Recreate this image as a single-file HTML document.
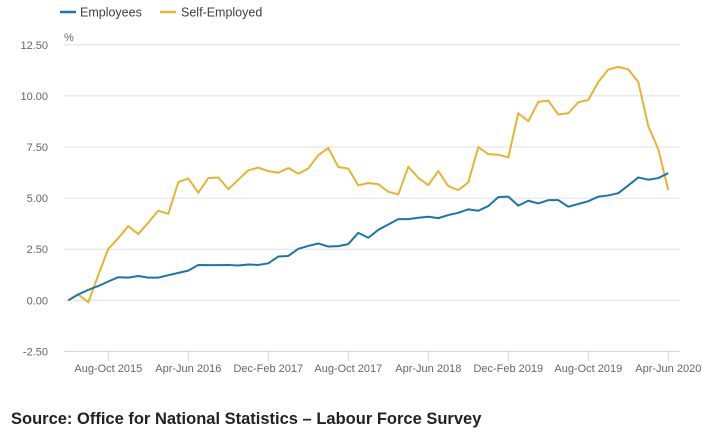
<!DOCTYPE html>
<html><head><meta charset="utf-8"><style>
body{margin:0;background:#fff;width:703px;height:428px;overflow:hidden;font-family:"Liberation Sans",sans-serif}
</style></head><body>
<svg width="703" height="428" font-family="Liberation Sans, sans-serif">
<g id="legend">
 <g><line x1="60" y1="12" x2="76" y2="12" stroke="#1b76a6" stroke-width="2.5"/><text x="80" y="16.5" font-size="12.5" fill="#414042">Employees</text></g>
 <g><line x1="160" y1="12" x2="176" y2="12" stroke="#e6b52f" stroke-width="2.5"/><text x="181" y="16.5" font-size="12.5" fill="#414042">Self-Employed</text></g>
</g>
<text x="64" y="41" font-size="11" fill="#666">%</text>
<g id="grid"></g>
<g id="xaxis"></g>
<g id="series"></g>
<text x="11" y="424" font-size="16.5" font-weight="bold" fill="#222">Source: Office for National Statistics – Labour Force Survey</text>
</svg>
<script>
const yTicks=[-2.5,0,2.5,5,7.5,10,12.5];
const xTickLabels=["Aug-Oct 2015","Apr-Jun 2016","Dec-Feb 2017","Aug-Oct 2017","Apr-Jun 2018","Dec-Feb 2019","Aug-Oct 2019","Apr-Jun 2020"];
const xTickIndex=[4,12,20,28,36,44,52,60];
const employees=[0,0.29,0.51,0.70,0.92,1.13,1.11,1.19,1.11,1.11,1.23,1.34,1.45,1.73,1.72,1.72,1.73,1.70,1.75,1.73,1.81,2.14,2.17,2.52,2.66,2.78,2.63,2.65,2.75,3.30,3.06,3.45,3.71,3.97,3.97,4.04,4.09,4.02,4.17,4.28,4.45,4.38,4.61,5.05,5.07,4.63,4.87,4.74,4.90,4.90,4.58,4.71,4.85,5.07,5.13,5.24,5.62,6.01,5.90,5.98,6.22];
const selfEmployed=[0,0.29,-0.10,1.24,2.52,3.04,3.63,3.24,3.81,4.38,4.23,5.78,5.96,5.26,5.98,6.01,5.44,5.90,6.36,6.49,6.32,6.24,6.47,6.19,6.45,7.10,7.45,6.52,6.44,5.62,5.74,5.68,5.31,5.18,6.53,5.99,5.64,6.32,5.59,5.39,5.77,7.49,7.15,7.12,6.99,9.15,8.76,9.71,9.77,9.09,9.15,9.69,9.80,10.68,11.29,11.42,11.30,10.68,8.52,7.39,5.39];
const NS="http://www.w3.org/2000/svg";
const x=i=>68.3+10*i;
const y=v=>300.3-v*20.44;
function mk(t,a,p){const e=document.createElementNS(NS,t);for(const k in a)e.setAttribute(k,a[k]);p.appendChild(e);return e;}
const grid=document.getElementById('grid');
yTicks.forEach(v=>{
 const l=mk('line',{x1:64,x2:680,y1:y(v),y2:y(v),stroke:v===-2.5?'#ccd6eb':'#e0e0e0','stroke-width':1},grid);
 
 
 const t=mk('text',{x:48,y:y(v)+4,'text-anchor':'end','font-size':11,fill:'#666'},grid);
 
 
 t.textContent=v.toFixed(2);
});
const xa=document.getElementById('xaxis');
xTickIndex.forEach((idx,k)=>{
 const tk=mk('line',{x1:x(idx),x2:x(idx),y1:351,y2:361,stroke:'#ccd6eb'},xa);
 
 
 const t=mk('text',{x:x(idx),y:372,'text-anchor':'middle','font-size':11,fill:'#666'},xa);
 
 
 t.textContent=xTickLabels[k];
});
const s=document.getElementById('series');
[[selfEmployed,'#e6b52f','self-employed-line'],[employees,'#1b76a6','employees-line']].forEach(([d,c,n])=>{
 const p=mk('path',{d:d.map((v,i)=>(i?'L':'M')+x(i)+' '+y(v)).join(' '),fill:'none',stroke:c,'stroke-width':2,'stroke-linejoin':'round'},s);
 
 
});
</script>
</body></html>
